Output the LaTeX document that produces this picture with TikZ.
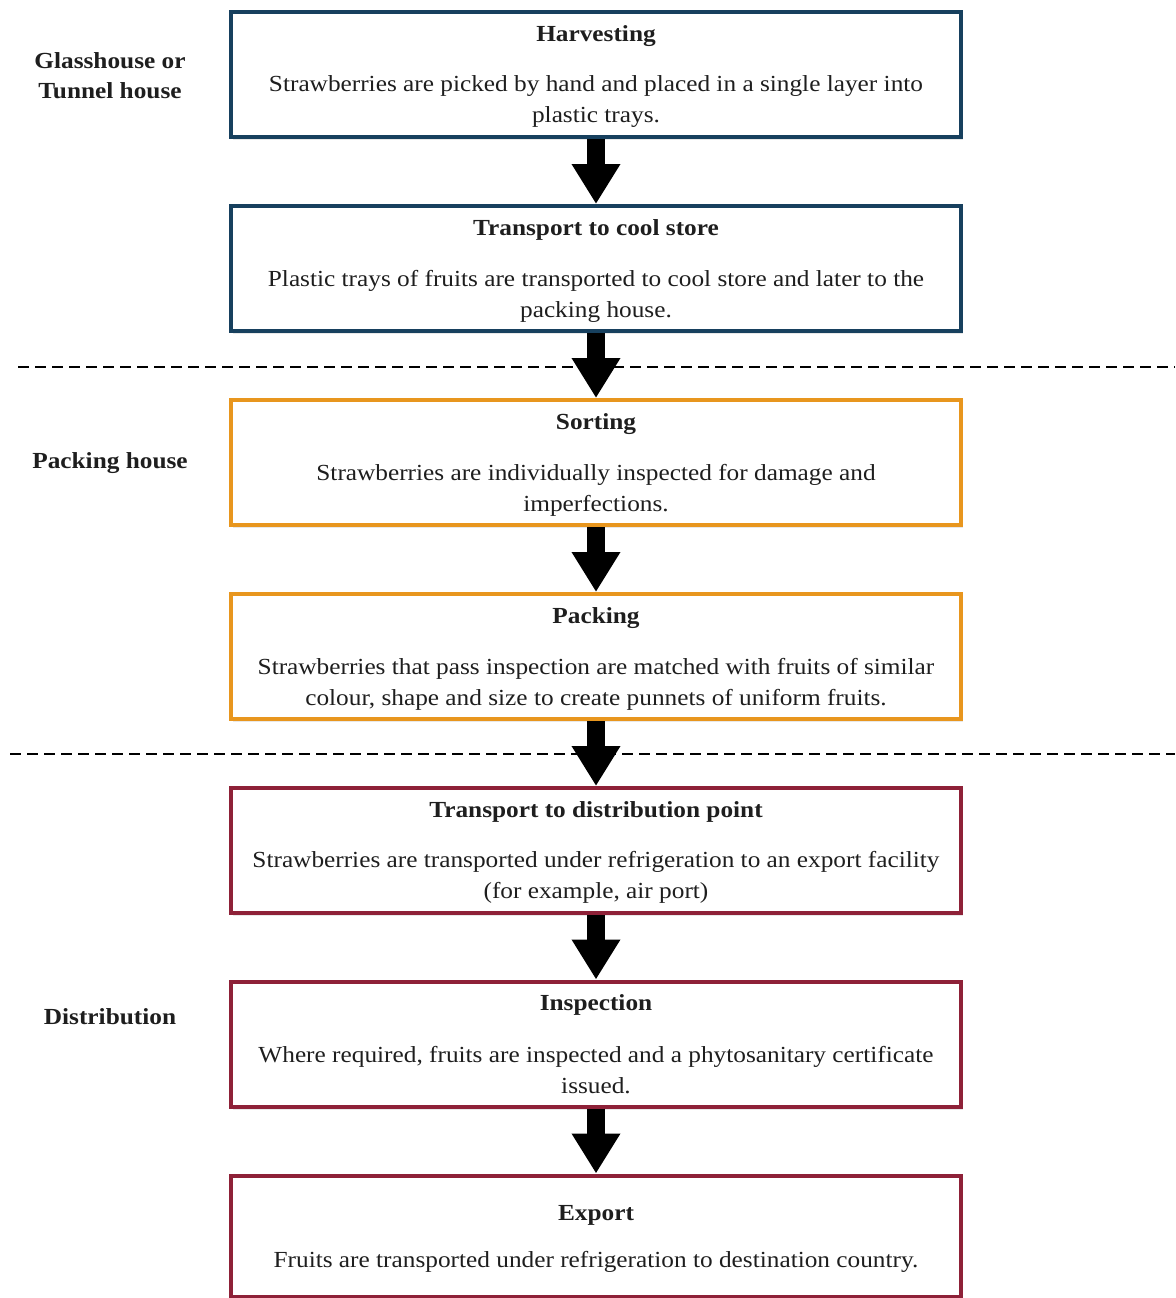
\documentclass[tikz,border=0pt]{standalone}
\usepackage{fontspec}
\setmainfont{Liberation Serif}[FakeStretch=1.1]
\usetikzlibrary{arrows.meta,shadows}
\definecolor{cblue}{HTML}{17405E}
\definecolor{corange}{HTML}{E8961E}
\definecolor{cred}{HTML}{8E2138}
\definecolor{ctext}{HTML}{1E1E1E}
\begin{document}
\begin{tikzpicture}[x=1pt,y=-1pt,
  stepbox/.style={draw, line width=4pt, fill=white, minimum width=730pt, minimum height=125pt, inner sep=0pt,
     drop shadow={shadow xshift=2pt, shadow yshift=-3pt, opacity=0.18}},
  ttl/.style={font=\fontsize{23}{26}\selectfont\bfseries, inner sep=0pt, text=ctext},
  body/.style={font=\fontsize{23}{31}\selectfont, align=center, inner sep=0pt, text=ctext},
  side/.style={font=\fontsize{23}{30}\selectfont\bfseries, align=center, inner sep=0pt, text=ctext},
  bigarrow/.style={line width=18pt, -{Triangle[length=40pt,width=46pt]}},
  sep/.style={line width=2.2pt, dash pattern=on 11pt off 6pt}]
\useasboundingbox (0,0) rectangle (1175,1298);
\fill[white] (0,0) rectangle (1175,1298);

% separators
\coordinate (s1a) at (18,367); \coordinate (s1b) at (1175,367);
\coordinate (s2a) at (10,754); \coordinate (s2b) at (1175,754);
\draw[sep] (s1a) -- (s1b);
\draw[sep] (s2a) -- (s2b);

% boxes
\node[stepbox, draw=cblue] (b1) at (596,74.5) {};
\node[stepbox, draw=cblue] (b2) at (596,268.5) {};
\node[stepbox, draw=corange] (b3) at (596,462.5) {};
\node[stepbox, draw=corange] (b4) at (596,656.5) {};
\node[stepbox, draw=cred] (b5) at (596,850.5) {};
\node[stepbox, draw=cred] (b6) at (596,1044) {};
\node[stepbox, draw=cred, minimum height=121pt] (b7) at (596,1236) {};

% arrows
\draw[bigarrow] (b1.south) -- (b2.north);
\draw[bigarrow] (b2.south) -- (b3.north);
\draw[bigarrow] (b3.south) -- (b4.north);
\draw[bigarrow] (b4.south) -- (b5.north);
\draw[bigarrow] (b5.south) -- (b6.north);
\draw[bigarrow] (b6.south) -- (b7.north);

% texts
\node[ttl] (t1) at (596,36) {Harvesting};
\node[body] (d1) at (596,102) {Strawberries are picked by hand and placed in a single layer into\\plastic trays.};
\node[ttl] (t2) at (596,230) {Transport to cool store};
\node[body] (d2) at (596,296) {Plastic trays of fruits are transported to cool store and later to the\\packing house.};
\node[ttl] (t3) at (596,424) {Sorting};
\node[body] (d3) at (596,490) {Strawberries are individually inspected for damage and\\imperfections.};
\node[ttl] (t4) at (596,618) {Packing};
\node[body] (d4) at (596,684) {Strawberries that pass inspection are matched with fruits of similar\\colour, shape and size to create punnets of uniform fruits.};
\node[ttl] (t5) at (596,812) {Transport to distribution point};
\node[body] (d5) at (596,877) {Strawberries are transported under refrigeration to an export facility\\(for example, air port)};
\node[ttl] (t6) at (596,1005) {Inspection};
\node[body] (d6) at (596,1070.5) {Where required, fruits are inspected and a phytosanitary certificate\\issued.};
\node[ttl] (t7) at (596,1215) {Export};
\node[body] (d7) at (596,1262) {Fruits are transported under refrigeration to destination country.};

% side labels
\node[side] (l1) at (110,76) {Glasshouse or\\Tunnel house};
\node[side] (l2) at (110,463) {Packing house};
\node[side] (l3) at (110,1017) {Distribution};
\end{tikzpicture}
\end{document}
